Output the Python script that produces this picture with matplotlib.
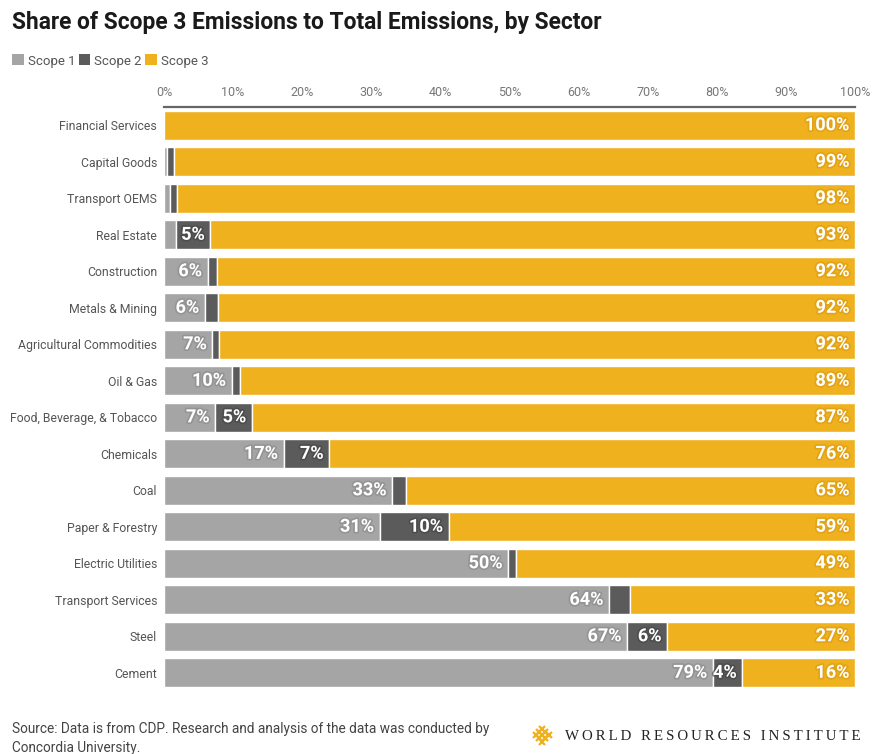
import numpy as np
import matplotlib.pyplot as plt
import matplotlib.patheffects as pe
from matplotlib.patches import Patch

plt.rcParams['font.family'] = ['Roboto', 'DejaVu Sans']

sectors = ['Financial Services', 'Capital Goods', 'Transport OEMS', 'Real Estate',
           'Construction', 'Metals & Mining', 'Agricultural Commodities', 'Oil & Gas',
           'Food, Beverage, & Tobacco', 'Chemicals', 'Coal', 'Paper & Forestry',
           'Electric Utilities', 'Transport Services', 'Steel', 'Cement']
scope1 = [0.0, 0.5, 0.9, 1.7, 6.3, 5.9, 7.0, 9.8, 7.4, 17.3, 33.0, 31.2, 49.8, 64.4, 67.0, 79.4]
scope2 = [0.0, 0.9, 1.0, 5.0, 1.4, 1.9, 1.0, 1.2, 5.3, 6.6, 2.0, 10.0, 1.2, 3.0, 5.8, 4.3]
scope3 = [100.0, 98.6, 98.1, 93.3, 92.3, 92.2, 92.0, 89.0, 87.3, 76.1, 65.0, 58.8, 49.0, 32.6, 27.2, 16.3]
xticks = [0, 10, 20, 30, 40, 50, 60, 70, 80, 90, 100]

c1, c2, c3 = '#a5a5a5', '#5b5b5b', '#f0b11e'

fig = plt.figure(figsize=(8.72, 7.54), dpi=100)
ax = fig.add_axes([164/872, 1 - 691/754, 691/872, 584/754])

y = np.arange(len(sectors))
s1 = np.array(scope1)
s2 = np.array(scope2)
s3 = np.array(scope3)
h = 0.8
ax.barh(y, s1, height=h, color=c1, edgecolor='white', linewidth=1)
ax.barh(y, s2, left=s1, height=h, color=c2, edgecolor='white', linewidth=1)
ax.barh(y, s3, left=s1 + s2, height=h, color=c3, edgecolor='white', linewidth=1)

def put_labels(vals, ends, col):
    for yi, v, e in zip(y, vals, ends):
        if v < 3.5:
            continue
        ax.annotate(f'{round(v)}%', (e, yi), xytext=(-4, 0), textcoords='offset points',
                    ha='right', va='center', color='white', fontsize=13, fontweight='bold',
                    path_effects=[pe.withStroke(linewidth=2.5, foreground=col, alpha=0.6)])

put_labels(s1, s1, '#8a8a8a')
put_labels(s2, s1 + s2, '#444444')
put_labels(s3, s1 + s2 + s3, '#d99a10')

ax.set_xlim(0, 100)
ax.set_ylim(len(sectors) - 0.5, -0.5)
ax.set_yticks(y)
ax.set_yticklabels(sectors, fontsize=8.8, color='#555555')
ax.set_xticks(xticks)
ax.set_xticklabels([f'{t}%' for t in xticks], fontsize=9, color='#777777')
ax.xaxis.tick_top()
ax.tick_params(axis='both', length=0)
ax.tick_params(axis='x', pad=6)
ax.tick_params(axis='y', pad=5)
for s in ['right', 'bottom', 'left']:
    ax.spines[s].set_visible(False)
ax.spines['top'].set_color('#666666')
ax.spines['top'].set_linewidth(1.6)

fig.text(12/872, 1 - 22/754, 'Share of Scope 3 Emissions to Total Emissions, by Sector',
         fontsize=16.4, fontweight='bold', color='#1a1a1a', va='center', ha='left')

handles = [Patch(facecolor=c1, label='Scope 1'), Patch(facecolor=c2, label='Scope 2'),
           Patch(facecolor=c3, label='Scope 3')]
leg = fig.legend(handles=handles, loc='center left', bbox_to_anchor=(0/872, 1 - 61/754),
                 ncol=3, frameon=False, fontsize=9.5, handlelength=0.9, handleheight=0.9,
                 handletextpad=0.3, columnspacing=0.25)
for t in leg.get_texts():
    t.set_color('#555555')

fig.text(12/872, 1 - 729/754,
         'Source: Data is from CDP. Research and analysis of the data was conducted by',
         fontsize=9.8, color='#444444', va='center', ha='left')
fig.text(12/872, 1 - 748/754, 'Concordia University.',
         fontsize=9.8, color='#444444', va='center', ha='left')

# WRI logo mark
lax = fig.add_axes([529/872, 1 - 748/754, 26/872, 26/754])
lax.set_xlim(-4, 4)
lax.set_ylim(-4, 4)
lax.axis('off')
for i in range(-3, 4):
    for j in range(-3, 4):
        if abs(i) + abs(j) <= 3 and (i + j) % 2 == 0:
            lax.plot(i, j, marker='x', color='#f0b11e', markersize=5, mew=1.6)
logo = '\u2009'.join('WORLD RESOURCES INSTITUTE')
fig.text(565/872, 1 - 736/754, logo, fontsize=10.7,
         family=['Liberation Serif', 'DejaVu Serif'], color='#222222', va='center', ha='left')

fig.savefig('out.png', dpi=100)
